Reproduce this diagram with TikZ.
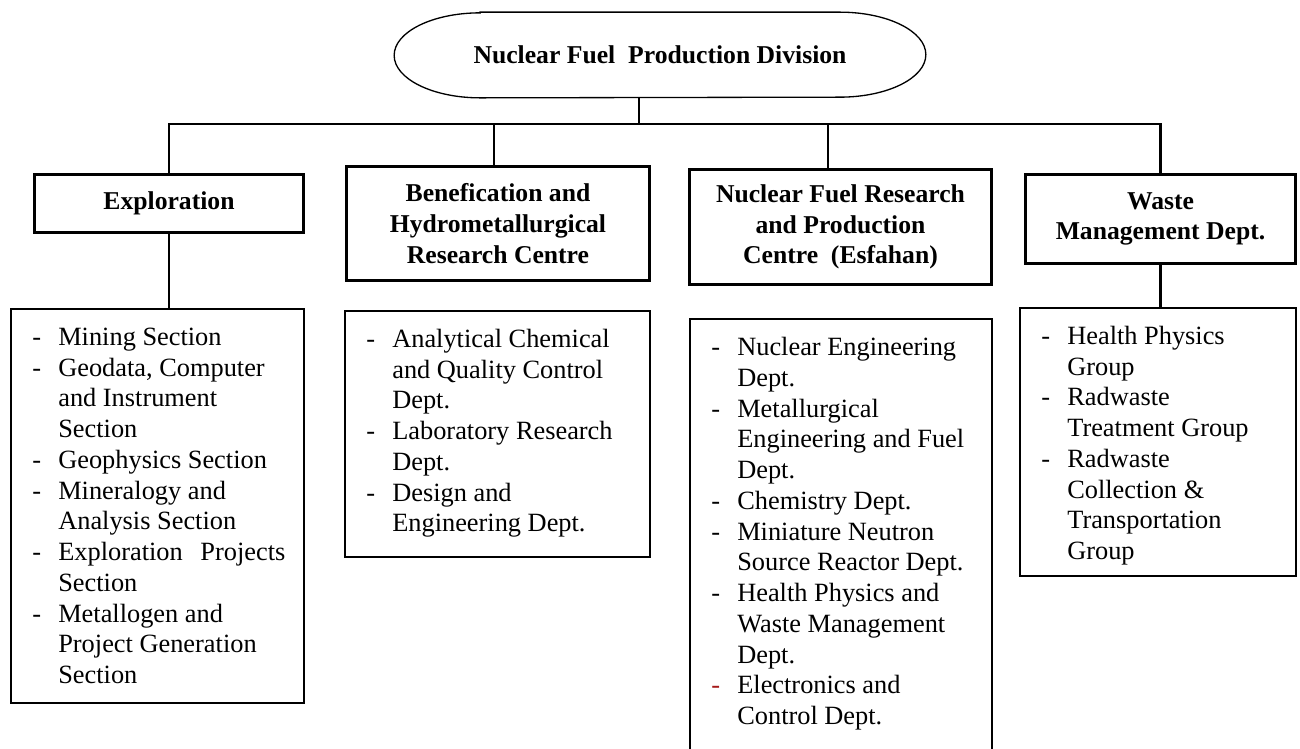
\documentclass[tikz,border=0pt]{standalone}
\usepackage{fontspec}
\setmainfont{Liberation Serif}
\usepackage{array}
\definecolor{dashred}{RGB}{165,25,25}
\newcommand{\listfont}{\fontsize{15}{17.5}\selectfont}
\newcommand{\headfont}{\fontsize{14.6}{17.5}\selectfont\bfseries}

\begin{document}
\begin{tikzpicture}[
    head/.style={rectangle,draw=black,line width=1.9pt,align=center,font=\headfont},
    listbox/.style={rectangle,draw=black,line width=0.9pt},
    listtext/.style={anchor=north west,inner sep=0pt,font=\listfont,xshift=0.44cm,yshift=-0.31cm}
  ]

      \useasboundingbox (0,0) rectangle (26,-14.98);

      % division on top
      \node[font=\headfont,minimum width=10.62cm,minimum height=1.7cm] (npd) at (13.2,-1.1){Nuclear Fuel~ Production Division};
      \draw[line width=0.75pt] ([xshift=1.72cm]npd.north west) -- ([xshift=-1.72cm]npd.north east)
        arc[start angle=90,end angle=-90,x radius=1.72cm,y radius=0.85cm] -- ([xshift=1.72cm]npd.south west)
        arc[start angle=270,end angle=90,x radius=1.72cm,y radius=0.85cm] -- cycle;

      % centres
      \node[head,minimum width=5.38cm,minimum height=1.16cm] (expl) at (3.38,-4.07){Exploration};
      \node[head,minimum width=6.06cm,minimum height=2.28cm] (bene) at (9.96,-4.47){Benefication and\\Hydrometallurgical\\Research Centre};
      \node[head,minimum width=6.04cm,minimum height=2.3cm] (nfrp) at (16.81,-4.54){Nuclear Fuel Research\\and Production\\Centre~ (Esfahan)};
      \node[head,minimum width=5.4cm,minimum height=1.78cm] (wmd) at (23.21,-4.38){Waste\\Management Dept.};

      \coordinate (stem) at (12.78,-2.48);
      \coordinate (b2) at (9.88,-2.48);
      \coordinate (b3) at (16.56,-2.48);

      \draw[line width=0.75pt] (stem |- npd.south) -- (stem);
      \draw[line width=1.4pt] (expl.north) -- (expl.north |- stem) -- (wmd.north |- stem) -- (wmd.north);
      \draw[line width=0.75pt] (b2) -- (b2 |- bene.north);
      \draw[line width=0.75pt] (b3) -- (b3 |- nfrp.north);

      % lists
      \node[listbox,minimum width=5.87cm,minimum height=7.89cm] (l1) at (3.15,-10.12){};
      \node[listbox,minimum width=6.11cm,minimum height=4.93cm] (l2) at (9.95,-8.68){};
      \node[listbox,minimum width=6.05cm,minimum height=9.02cm] (l3) at (16.82,-10.89){};
      \node[listbox,minimum width=5.53cm,minimum height=5.37cm] (l4) at (23.16,-8.84){};

      \draw[line width=1.3pt] (expl.south) -- (expl.south |- l1.north);
      \draw[line width=1.3pt] (wmd.south) -- (wmd.south |- l4.north);

      \node[listtext] at (l1.north west){\begin{tabular}{@{}p{0.52cm}@{}l@{}}
        - & Mining Section\\
        - & Geodata, Computer\\
          & and Instrument\\
          & Section\\
        - & Geophysics Section\\
        - & Mineralogy and\\
          & Analysis Section\\
        - & \makebox[4.54cm][s]{Exploration Projects}\\
          & Section\\
        - & Metallogen and\\
          & Project Generation\\
          & Section
      \end{tabular}};
      \node[listtext] at (l2.north west){\begin{tabular}{@{}p{0.52cm}@{}l@{}}
        - & Analytical Chemical\\
          & and Quality Control\\
          & Dept.\\
        - & Laboratory Research\\
          & Dept.\\
        - & Design and\\
          & Engineering Dept.
      \end{tabular}};
      \node[listtext] at (l3.north west){\begin{tabular}{@{}p{0.52cm}@{}l@{}}
        - & Nuclear Engineering\\
          & Dept.\\
        - & Metallurgical\\
          & Engineering and Fuel\\
          & Dept.\\
        - & Chemistry Dept.\\
        - & Miniature Neutron\\
          & Source Reactor Dept.\\
        - & Health Physics and\\
          & Waste Management\\
          & Dept.\\
        \textcolor{dashred}{-} & Electronics and\\
          & Control Dept.
      \end{tabular}};
      \node[listtext] at (l4.north west){\begin{tabular}{@{}p{0.52cm}@{}l@{}}
        - & Health Physics\\
          & Group\\
        - & Radwaste\\
          & Treatment Group\\
        - & Radwaste\\
          & Collection \&\\
          & Transportation\\
          & Group
      \end{tabular}};

    \end{tikzpicture}
\end{document}
